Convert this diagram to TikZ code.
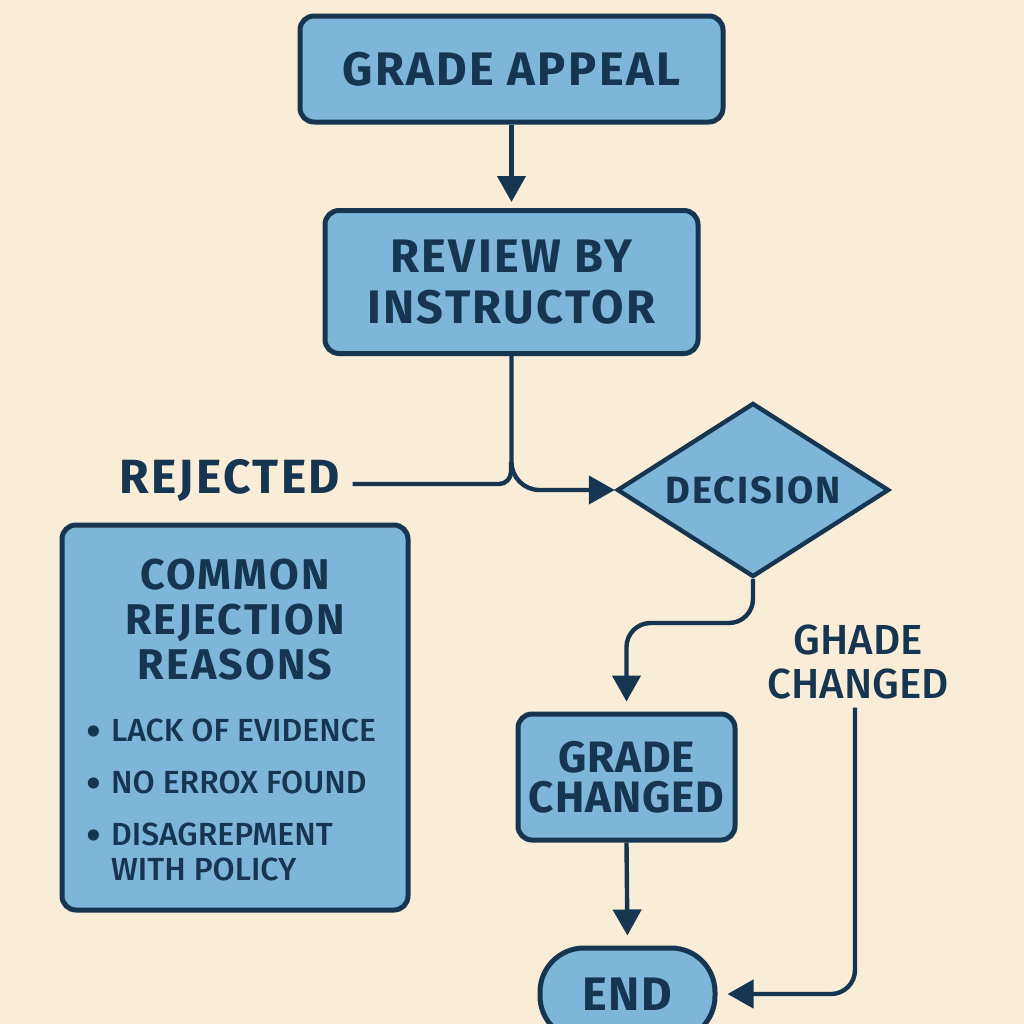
\documentclass[tikz,border=0pt]{standalone}
\usepackage{fontspec}
\setmainfont{Fira Sans}
\newfontfamily\medfont{Fira Sans Medium}
\usetikzlibrary{arrows.meta,shapes.geometric}
\definecolor{bgc}{HTML}{F9EDD8}
\definecolor{boxc}{HTML}{7EB6D9}
\definecolor{ink}{HTML}{163550}
\newcommand{\bigbul}{{\fontsize{22}{16.5}\selectfont\raisebox{-2.8pt}{•}}}
\tikzset{
  box/.style={draw=ink, fill=boxc, line width=2.5pt, rounded corners=7pt, align=center, text=ink, inner sep=0pt},
  conn/.style={draw=ink, line width=2.2pt},
  arr/.style={conn, -{Triangle[width=14pt,length=13pt]}},
  bigfont/.style={font=\bfseries\fontsize{23.5}{25.5}\selectfont\addfontfeatures{LetterSpace=5}},
  lbl/.style={text=ink, align=center, inner sep=0pt}
}
\begin{document}
\begin{tikzpicture}[x=0.5pt,y=-0.5pt]
\useasboundingbox (0,0) rectangle (1024,1024);
\clip (0,0) rectangle (1024,1024);
\fill[bgc] (0,0) rectangle (1024,1024);

% nodes
\node[box, bigfont, minimum width=211.5pt, minimum height=53pt] (appeal) at (511.5,69) {GRADE APPEAL};
\node[box, bigfont, minimum width=186.5pt, minimum height=71.5pt] (review) at (511.5,282) {REVIEW BY\\INSTRUCTOR};
\node[diamond, draw=ink, fill=boxc, line width=2.2pt, text=ink, inner sep=0pt, minimum width=136pt, minimum height=87pt, shape aspect=1.56, font=\bfseries\fontsize{19}{21}\selectfont\addfontfeatures{LetterSpace=5}] (decision) at (753,490) {DECISION};
\node[lbl, font=\bfseries\fontsize{24}{26}\selectfont\addfontfeatures{LetterSpace=5}] (rejected) at (230,481) {REJECTED};
\node[box, minimum width=173pt, minimum height=192.5pt] (reasons) at (235,717.5) {};
\node[lbl, font=\bfseries\fontsize{21.5}{22.5}\selectfont\addfontfeatures{LetterSpace=5}] (rtitle) at (235,620) {COMMON\\REJECTION\\REASONS};
\node[lbl, anchor=north west, align=left, font=\medfont\fontsize{16}{16}\selectfont] (rlist) at (86,718) {%
\begin{tabular}{@{}l@{\hspace{5pt}}l@{}}
\bigbul&LACK OF EVIDENCE\\[10pt]
\bigbul&NO ERROX FOUND\\[10pt]
\bigbul&DISAGREPMENT\\[1.5pt]
&WITH POLICY
\end{tabular}};
\node[box, font=\bfseries\fontsize{22}{25}\selectfont\addfontfeatures{LetterSpace=2}, minimum width=108.5pt, minimum height=63pt] (changed) at (626.5,777) {GRADE\\[-5pt]CHANGED};
\node[box, rounded corners=22pt, font=\bfseries\fontsize{23.5}{25}\selectfont\addfontfeatures{LetterSpace=3}, minimum width=87.5pt, minimum height=46pt] (end) at (627.5,994) {END};
\node[lbl, font=\medfont\fontsize{21}{22}\selectfont] (glabel) at (858,662) {GHADE\\CHANGED};

% connectors
\coordinate (branch) at (511,462);
\coordinate (j1) at (700,623);
\draw[arr, shorten >=3pt] (appeal.south) -- (review.north);
\draw[arr, rounded corners=14pt] (review.south) |- (decision.west);
\draw[conn, rounded corners=6pt] (branch) |- ([xshift=6pt,yshift=-1.5pt]rejected.east);
\draw[arr, rounded corners=12pt, shorten >=5pt] (decision.south) |- (j1) -| (changed.north);
\draw[arr, shorten >=5pt] (changed.south) -- (end.north);
\draw[arr, rounded corners=12pt, shorten >=5pt] ([xshift=-1.5pt,yshift=-4pt]glabel.south) |- (end.east);
\end{tikzpicture}
\end{document}
